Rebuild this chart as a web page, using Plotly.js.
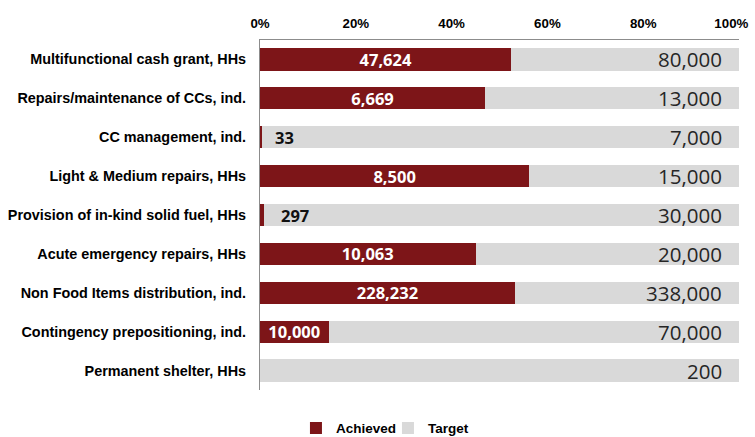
<!DOCTYPE html>
<html>
<head>
<meta charset="utf-8">
<script src="https://cdn.plot.ly/plotly-3.0.1.min.js"></script>
<style>html,body{margin:0;padding:0;background:#fff;}#chart{width:755px;height:437px;}</style>
</head>
<body>
<div id="chart"></div>
<script>
// Data
const categories = [
  "Multifunctional cash grant, HHs",
  "Repairs/maintenance of CCs, ind.",
  "CC management, ind.",
  "Light & Medium repairs, HHs",
  "Provision of in-kind solid fuel, HHs",
  "Acute emergency repairs, HHs",
  "Non Food Items distribution, ind.",
  "Contingency prepositioning, ind.",
  "Permanent shelter, HHs"
];
// share of the bar that is achieved, in percent
const achievedPct = [52.5, 47.0, 0.4, 56.2, 0.9, 45.0, 53.2, 14.3, 0];
// labels shown on the bars
const achievedValues = [47624, 6669, 33, 8500, 297, 10063, 228232, 10000, null];
const targetValues = [80000, 13000, 7000, 15000, 30000, 20000, 338000, 70000, 200];
const tickVals = [0, 20, 40, 60, 80, 100];
const tickLabels = ["0%", "20%", "40%", "60%", "80%", "100%"];

const RED = "#7d1518";
const GRAY = "#d9d9d9";
const fmt = v => (v === null ? "" : v.toLocaleString("en-US"));
const INSIDE_MIN = 5;

const remainderPct = achievedPct.map(p => 100 - p);

const achieved = {
  type: "bar", orientation: "h", name: "Achieved",
  y: categories, x: achievedPct,
  marker: {color: RED},
  text: achievedPct.map((p, i) => p >= INSIDE_MIN ? fmt(achievedValues[i]) : ""),
  textposition: "inside", insidetextanchor: "middle", textangle: 0,
  constraintext: "none",
  textfont: {family: "Open Sans, sans-serif", size: 16.5, color: "#ffffff", weight: 700},
  hoverinfo: "skip"
};
const target = {
  type: "bar", orientation: "h", name: "Target",
  y: categories, x: remainderPct,
  marker: {color: GRAY},
  hoverinfo: "skip"
};

const annotations = [];
categories.forEach((c, i) => {
  annotations.push({
    x: 100, y: c, xref: "x", yref: "y", xanchor: "right", yanchor: "middle",
    xshift: -15, showarrow: false, text: fmt(targetValues[i]),
    font: {family: "Open Sans, sans-serif", size: 20.5, color: "#262626"}
  });
  if (achievedPct[i] > 0 && achievedPct[i] < INSIDE_MIN && achievedValues[i] !== null) {
    annotations.push({
      x: achievedPct[i], y: c, xref: "x", yref: "y", xanchor: "left", yanchor: "middle",
      xshift: 7 + i * 2, showarrow: false, text: fmt(achievedValues[i]),
      font: {family: "Open Sans, sans-serif", size: 16.5, color: "#111111", weight: 700}
    });
  }
});

const layout = {
  width: 755, height: 437,
  margin: {l: 260, r: 16, t: 40, b: 47},
  paper_bgcolor: "#ffffff", plot_bgcolor: "#ffffff",
  barmode: "stack", bargap: 0.43,
  showlegend: true,
  legend: {
    orientation: "h", xref: "container", x: 0.392, xanchor: "left",
    yref: "container", y: 0.02, yanchor: "middle",
    entrywidth: 47,
    font: {family: "Liberation Sans, Arial, sans-serif", size: 13.5, color: "#000", weight: 700},
    traceorder: "normal", itemclick: false, itemdoubleclick: false
  },
  xaxis: {
    side: "top", range: [0, 100],
    // the last label is nudged left so it stays inside the picture, as in the reference
    tickvals: tickVals.map(v => (v === 100 ? v - 1.6 : v)), ticktext: tickLabels,
    showgrid: false, zeroline: false, showline: true, linecolor: "#8c8c8c", linewidth: 1,
    ticks: "", ticklabelstandoff: 6, fixedrange: true,
    tickfont: {family: "Liberation Sans, Arial, sans-serif", size: 13.3, color: "#000", weight: 700}
  },
  yaxis: {
    autorange: "reversed", showgrid: false, zeroline: false,
    showline: true, linecolor: "#8c8c8c", linewidth: 1,
    ticks: "", ticklabelstandoff: 10, fixedrange: true,
    tickfont: {family: "Liberation Sans, Arial, sans-serif", size: 14.4, color: "#000", weight: 700}
  },
  annotations: annotations
};

Plotly.newPlot("chart", [achieved, target], layout, {displayModeBar: false, staticPlot: true});
</script>
</body>
</html>
